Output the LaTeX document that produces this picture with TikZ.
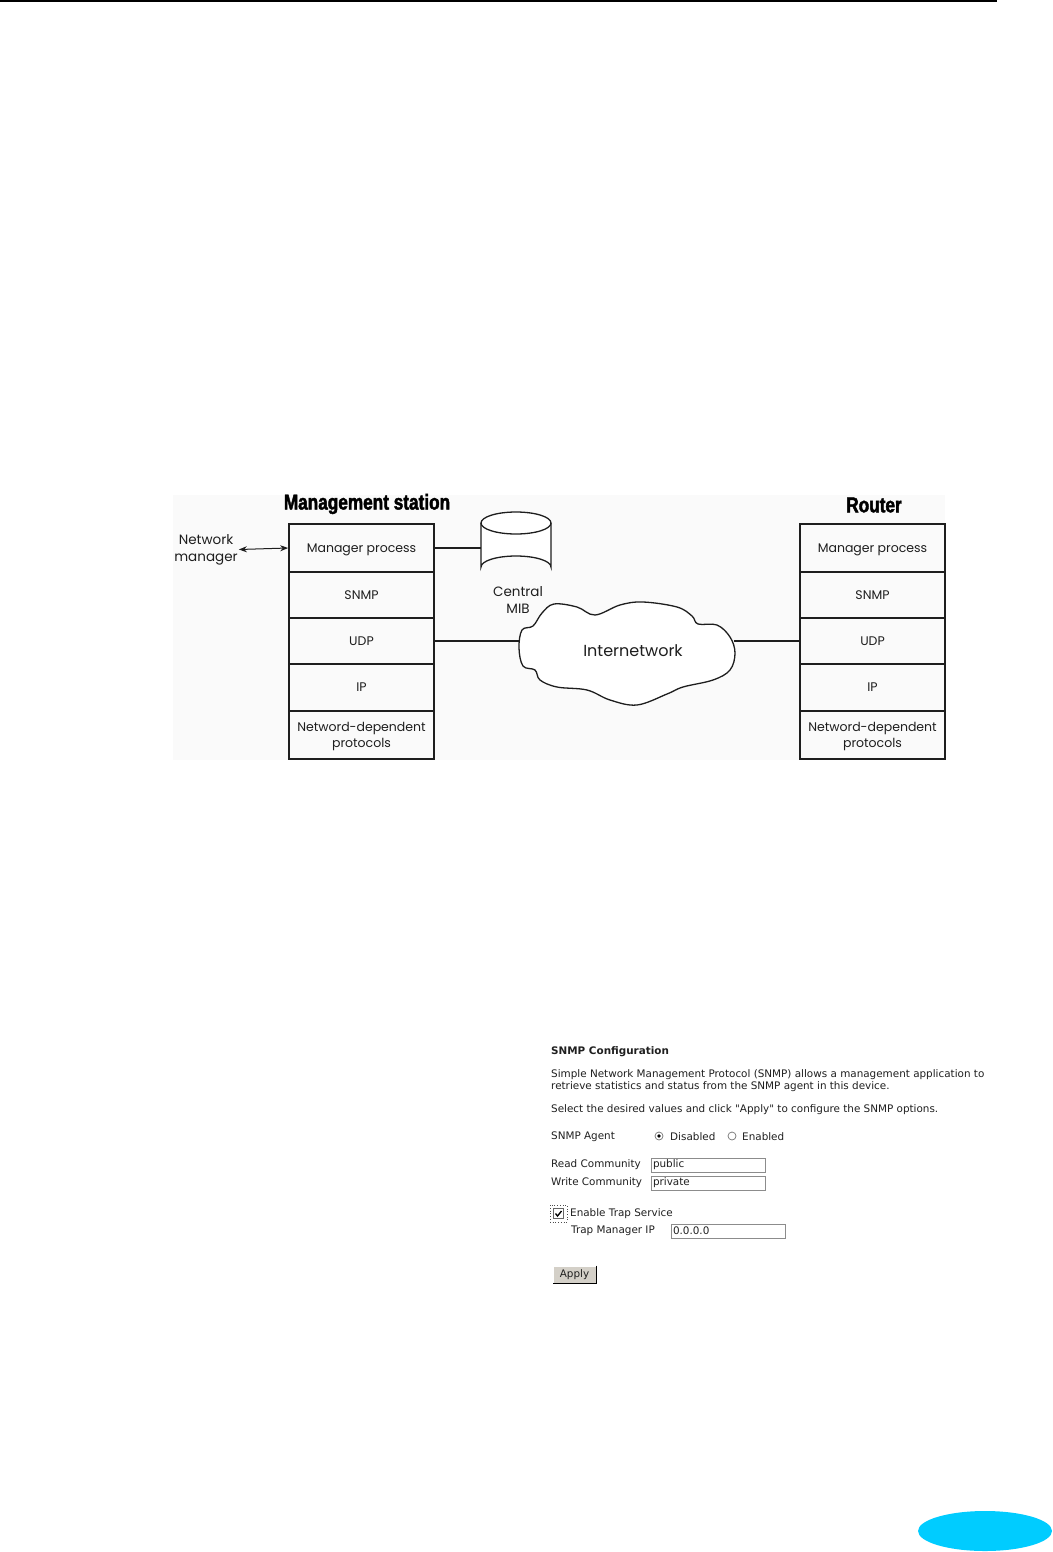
\documentclass[tikz,border=0pt]{standalone}
\usepackage{fontspec}
\setmainfont{Poppins}
\newfontfamily\titlefont{Liberation Sans}[UprightFont=* Bold, FakeStretch=0.8, FakeBold=2]
\newfontfamily\uifont{DejaVu Sans}
\usetikzlibrary{arrows.meta, positioning, calc, shapes.geometric}
\definecolor{inkdark}{HTML}{1E1E1E}
\definecolor{bglight}{HTML}{FAFAFA}
\definecolor{pagecyan}{HTML}{00CCFF}
\definecolor{btngray}{HTML}{D4D0C8}
\definecolor{uitext}{HTML}{202020}

\begin{document}
\begin{tikzpicture}[
  x=1pt, y=-1pt,
  >={Stealth[length=8pt, width=6pt]},
  layer/.style={
    draw=inkdark, line width=1.6pt, minimum width=145pt, text depth=0pt,
    font=\fontsize{12.5}{16}\selectfont, text=inkdark, align=center, inner sep=0pt},
  twoline/.style={text depth=-5pt},
  head/.style={font=\titlefont\fontsize{21.5}{23}\selectfont, text=black},
  lbl/.style={font=\fontsize{13.5}{17}\selectfont, text=inkdark, align=center, inner sep=1pt},
  link/.style={line width=1.3pt, inkdark},
  ui/.style={font=\uifont\fontsize{10.4}{12}\selectfont, text=uitext, anchor=west, inner sep=0pt, align=left},
  inputbox/.style={draw=black!45, line width=0.8pt, fill=white, minimum height=14pt,
    text width=110pt, inner xsep=2pt, inner ysep=0pt, align=left,
    font=\uifont\fontsize{10.4}{12}\selectfont, text=uitext},
  radio/.style={circle, draw=black!55, line width=0.7pt, fill=white, minimum size=8pt, inner sep=0pt},
]

% page
\fill[white] (0,0) rectangle (1052,1552);
\useasboundingbox (0,0) rectangle (1052,1552);
\draw[line width=2pt] (0,1) -- (997,1);

% === Protocol diagram ===
\fill[bglight] (173,495) rectangle (945,760);

\node[head] (lhead) at (367,504) {Management station};
\node[head] (rhead) at (874,505) {Router};

% left stack
\node[layer, minimum height=48pt] (lmgr)  at (361.5,548)   {Manager process};
\node[layer, minimum height=46pt] (lsnmp) at (361.5,595)   {SNMP};
\node[layer, minimum height=46pt] (ludp)  at (361.5,641)   {UDP};
\node[layer, minimum height=47pt] (lip)   at (361.5,687.5) {IP};
\node[layer, twoline, minimum height=48pt] (lnet) at (361.5,735) {Netword-dependent\\protocols};

% right stack
\node[layer, minimum height=48pt] (rmgr)  at (872.5,548)   {Manager process};
\node[layer, minimum height=46pt] (rsnmp) at (872.5,595)   {SNMP};
\node[layer, minimum height=46pt] (rudp)  at (872.5,641)   {UDP};
\node[layer, minimum height=47pt] (rip)   at (872.5,687.5) {IP};
\node[layer, twoline, minimum height=48pt] (rnet) at (872.5,735) {Netword-dependent\\protocols};

% network manager
\node[lbl] (netmgr) at (206,549.5) {Network\\manager};
\draw[link, <->, line width=1pt] (netmgr.east) -- (lmgr.west);

% central MIB
\coordinate (mibw) at (481,548);
\filldraw[link, fill=white] (481,523) -- (481,567)
  arc[start angle=180, end angle=360, x radius=35, y radius=11] -- (551,523);
\filldraw[link, fill=white] (516,523) ellipse[x radius=35, y radius=11];
\node[lbl] (mibtxt) at (518,600) {Central\\MIB};
\draw[link] (lmgr.east) -- (mibw);

% internetwork cloud
\filldraw[link, fill=white] plot[smooth cycle, tension=0.6] coordinates {
  (519,648) (522,630) (533,626) (542,613) (554,604) (577,607) (595,615)
  (620,605) (643,602) (677,607) (692,616) (698,624) (717,625) (730,637)
  (735,653) (730,670) (713,680) (683,687) (667,694) (637,705) (610,700)
  (587,690) (557,687) (540,680) (535,670) (523,666)};
\node[font=\fontsize{16}{18}\selectfont, text=inkdark] (inet) at (633,651) {Internetwork};
\coordinate (cloudw) at (520,641);
\coordinate (cloude) at (734,641);
\draw[link] (ludp.east) -- (cloudw);
\draw[link] (cloude) -- (rudp.west);

% === SNMP configuration screen ===
\node[ui, font=\uifont\bfseries\fontsize{10.4}{12}\selectfont] (cfgtitle) at (551,1052) {SNMP Configuration};
\node[ui] (cfgintro) at (551,1081)
  {Simple Network Management Protocol (SNMP) allows a management application to\\
   retrieve statistics and status from the SNMP agent in this device.};
\node[ui] (cfgselect) at (551,1110)
  {Select the desired values and click "Apply" to configure the SNMP options.};

\node[ui] (agentlbl) at (551,1137) {SNMP Agent};
\node[radio] (raddis) at (659,1136) {};
\fill[black] (raddis.center) circle[radius=1.8pt];
\node[ui] (dislbl) at (670,1137) {Disabled};
\node[radio] (raden) at (732,1136) {};
\node[ui] (enlbl) at (742,1137) {Enabled};

\node[ui] (readlbl) at (551,1165) {Read Community};
\node[inputbox] (readbox) at (708,1165) {public};
\node[ui] (writelbl) at (551,1183) {Write Community};
\node[inputbox] (writebox) at (708,1183) {private};

\node[draw=black!70, dotted, line width=0.7pt, minimum size=17pt, inner sep=0pt] (chkfocus) at (558.5,1213.5) {};
\node[draw=black!60, line width=0.8pt, fill=white, minimum size=10pt, inner sep=0pt] (trapchk) at (558.5,1213.5) {};
\draw[line width=1.3pt] ($(trapchk.center)+(-3,0)$) -- ($(trapchk.center)+(-1,2.5)$) -- ($(trapchk.center)+(3,-2.5)$);
\node[ui] (traplbl) at (570,1214) {Enable Trap Service};
\node[ui] (tiplbl) at (571,1231) {Trap Manager IP};
\node[inputbox] (tipbox) at (728,1231) {0.0.0.0};

\node[fill=btngray, draw=white, line width=0.8pt, minimum width=43pt, minimum height=17pt,
  inner sep=0pt, font=\uifont\fontsize{10.4}{12}\selectfont, text=uitext] (applybtn) at (574.5,1274.5) {Apply};
\draw[line width=1.4pt] (applybtn.north east) -- (applybtn.south east) -- (applybtn.south west);

% page tab
\node[ellipse, fill=pagecyan, minimum width=134pt, minimum height=40pt] (pagetab) at (985,1531) {};

\end{tikzpicture}
\end{document}
